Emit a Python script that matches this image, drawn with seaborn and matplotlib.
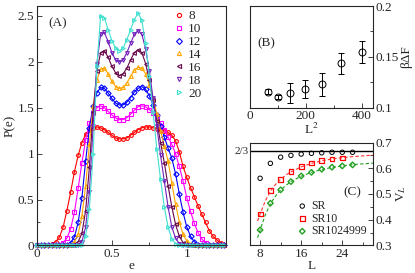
import numpy as np
import pandas as pd
import seaborn as sns
import matplotlib.pyplot as plt
from matplotlib.lines import Line2D
from matplotlib.ticker import MultipleLocator

sns.set_style("ticks")
plt.rcParams['font.family'] = ['Liberation Serif', 'DejaVu Serif']
plt.rcParams['mathtext.fontset'] = 'stix'
plt.rcParams['font.size'] = 9.5

# ---- panel A : P(e) for L = 8..20, sampled on e = 0, 0.025, ..., 1.25
e_grid = np.linspace(0, 1.25, 51)
sizes = ['8', '10', '12', '14', '16', '18', '20']


def pad(p):
    return p + [0] * (51 - len(p))


P_8 = pad([0, 0, 0, 0.005, 0.02, 0.04, 0.09, 0.2, 0.38, 0.58, 0.8, 0.98, 1.12, 1.21,
           1.26, 1.28, 1.29, 1.28, 1.26, 1.23, 1.2, 1.17, 1.16, 1.16, 1.17, 1.2, 1.23,
           1.26, 1.28, 1.29, 1.29, 1.28, 1.27, 1.26, 1.25, 1.23, 1.2, 1.14, 1.02, 0.86,
           0.74, 0.63, 0.53, 0.43, 0.34, 0.25, 0.16, 0.1, 0.06, 0.03, 0.01])
P_10 = pad([0, 0, 0, 0, 0, 0.005, 0.01, 0.03, 0.08, 0.18, 0.36, 0.62, 0.9, 1.15, 1.33,
            1.44, 1.5, 1.52, 1.5, 1.46, 1.42, 1.39, 1.37, 1.37, 1.39, 1.43, 1.47, 1.51,
            1.52, 1.51, 1.48, 1.44, 1.39, 1.33, 1.26, 1.18, 1.1, 1.0, 0.86, 0.7, 0.52,
            0.37, 0.24, 0.14, 0.07, 0.03, 0.01])
P_12 = pad([0, 0, 0, 0, 0, 0, 0, 0, 0.01, 0.03, 0.09, 0.25, 0.52, 0.92, 1.28, 1.52,
            1.66, 1.72, 1.71, 1.66, 1.6, 1.55, 1.53, 1.53, 1.56, 1.61, 1.67, 1.71, 1.73,
            1.7, 1.63, 1.53, 1.42, 1.3, 1.18, 1.06, 0.95, 0.78, 0.56, 0.36, 0.2, 0.1,
            0.04, 0.01])
P_14 = pad([0, 0, 0, 0, 0, 0, 0, 0, 0, 0.01, 0.04, 0.12, 0.32, 0.65, 1.1, 1.52, 1.8,
            1.92, 1.93, 1.87, 1.79, 1.73, 1.71, 1.72, 1.77, 1.84, 1.91, 1.94, 1.93, 1.87,
            1.75, 1.6, 1.43, 1.25, 1.08, 0.92, 0.68, 0.45, 0.26, 0.12, 0.05, 0.02])
P_16 = pad([0, 0, 0, 0, 0, 0, 0, 0, 0, 0, 0.01, 0.04, 0.13, 0.38, 0.85, 1.45, 1.9,
            2.1, 2.12, 2.05, 1.95, 1.88, 1.85, 1.87, 1.93, 2.02, 2.1, 2.13, 2.1, 1.98,
            1.8, 1.58, 1.35, 1.12, 0.9, 0.65, 0.42, 0.23, 0.1, 0.03, 0.01])
P_18 = pad([0, 0, 0, 0, 0, 0, 0, 0, 0, 0, 0, 0.01, 0.04, 0.2, 0.58, 1.3, 1.98, 2.3,
            2.32, 2.22, 2.1, 2.02, 2.0, 2.02, 2.1, 2.2, 2.3, 2.34, 2.3, 2.14, 1.9, 1.6,
            1.3, 0.98, 0.7, 0.42, 0.2, 0.08, 0.02])
P_20 = pad([0, 0, 0, 0, 0, 0, 0, 0, 0, 0, 0, 0, 0.01, 0.1, 0.4, 1.0, 1.95, 2.5, 2.48,
            2.35, 2.23, 2.15, 2.12, 2.15, 2.24, 2.35, 2.46, 2.53, 2.45, 2.2, 1.85, 1.45,
            1.05, 0.72, 0.42, 0.2, 0.07, 0.02])
P_all = [P_8, P_10, P_12, P_14, P_16, P_18, P_20]

colors_A = ['#ff0000', '#ff00ff', '#0000ff', '#ffa500', '#670748', '#7221bc', '#40e0d0']
markers_A = ['o', 's', 'D', '^', '<', 'v', '>']

# ---- panel B : free energy barrier vs L^2
L_sq = [64, 100, 144, 196, 256, 324, 400]
dF = [0.1156, 0.1106, 0.1146, 0.1182, 0.1229, 0.1435, 0.1550]
dF_err = [0.0025, 0.0022, 0.0100, 0.0090, 0.0115, 0.0100, 0.0110]

# ---- panel C : V_L vs L
L_sr = [8, 10, 12, 14, 16, 18, 20, 22, 24, 26]
V_sr = [0.561, 0.619, 0.643, 0.650, 0.655, 0.658, 0.660, 0.662, 0.662, 0.662]
L_sr10 = [8, 10, 12, 14, 16, 18, 20, 22, 24]
V_sr10 = [0.422, 0.513, 0.556, 0.587, 0.606, 0.620, 0.629, 0.636, 0.640]
L_sr1024999 = [8, 10, 12, 14, 16, 18, 20, 22, 24, 26]
V_sr1024999 = [0.360, 0.464, 0.516, 0.548, 0.570, 0.584, 0.596, 0.604, 0.609, 0.613]
# dashed fit curves
L_fit = [7.5, 8, 9, 10, 11, 12, 13, 14, 16, 18, 20, 22, 24, 26, 28, 30]
fit_sr10 = [0.395, 0.422, 0.472, 0.511, 0.537, 0.557, 0.573, 0.586, 0.605, 0.619,
            0.629, 0.636, 0.641, 0.645, 0.648, 0.651]
fit_sr1024999 = [0.33, 0.36, 0.418, 0.462, 0.492, 0.515, 0.533, 0.548, 0.569, 0.584,
                 0.595, 0.603, 0.609, 0.614, 0.617, 0.620]

fig = plt.figure(figsize=(4.15, 2.73), dpi=100)
axA = fig.add_axes([0.089, 0.101, 0.455, 0.878])
axB = fig.add_axes([0.602, 0.606, 0.297, 0.372])
axC = fig.add_axes([0.602, 0.101, 0.297, 0.377])

for ax in (axA, axB, axC):
    for s in ax.spines.values():
        s.set_linewidth(0.8)
    ax.tick_params(which='major', direction='in', length=3.5, width=0.6, pad=2)
    ax.tick_params(which='minor', direction='in', length=2, width=0.6)

# panel A
handles = []
for P, c, m, lab in zip(P_all, colors_A, markers_A, sizes):
    df = pd.DataFrame({'e': e_grid, 'P': P})
    sns.lineplot(data=df, x='e', y='P', ax=axA, color=c, lw=0.8, marker=m,
                 markersize=2.7, markerfacecolor='none', markeredgecolor=c,
                 markeredgewidth=0.8, clip_on=False)
    handles.append(Line2D([], [], ls='none', marker=m, color=c, markersize=3,
                          markerfacecolor='none', markeredgewidth=0.8, label=lab))
axA.set_xlim(0, 1.26)
axA.set_ylim(0, 2.61)
axA.xaxis.set_minor_locator(MultipleLocator(0.25))
axA.yaxis.set_minor_locator(MultipleLocator(0.25))
axA.set_xticks([0, 0.5, 1])
axA.set_xticklabels(['0', '0.5', '1'])
axA.set_yticks([0, 0.5, 1, 1.5, 2, 2.5])
axA.set_yticklabels(['0', '0.5', '1', '1.5', '2', '2.5'])
axA.set_xlabel('e', labelpad=0)
axA.set_ylabel('P(e)', labelpad=1)
axA.text(0.06, 0.925, '(A)', transform=axA.transAxes, va='center')
axA.legend(handles=handles, loc='upper left', bbox_to_anchor=(0.685, 1.02),
           frameon=False, handlelength=0.6, handletextpad=0.35, labelspacing=0.05,
           borderpad=0.2, fontsize=9.5)

# panel B
axB.errorbar(L_sq, dF, yerr=dF_err, fmt='o', color='k', markersize=5,
             markerfacecolor='none', markeredgewidth=0.7, elinewidth=0.7,
             capsize=2.5, capthick=0.7)
axB.set_xlim(0, 440)
axB.set_ylim(0.1, 0.2)
axB.set_xticks([0, 200, 400])
axB.xaxis.set_minor_locator(MultipleLocator(100))
axB.set_yticks([0.1, 0.15, 0.2])
axB.set_yticklabels(['0.1', '0.15', '0.2'])
axB.yaxis.set_minor_locator(MultipleLocator(0.025))
axB.yaxis.tick_right()
axB.yaxis.set_label_position('right')
axB.set_ylabel('βΔF', labelpad=1)
axB.set_xlabel(r'L$^2$', labelpad=0)
axB.text(0.065, 0.635, '(B)', transform=axB.transAxes, va='center')

# panel C
axC.axhline(2 / 3, color='k', lw=1)
sns.lineplot(x=L_fit, y=fit_sr10, ax=axC, color='#ff3030', lw=0.8, ls=(0, (3, 2)))
sns.lineplot(x=L_fit, y=fit_sr1024999, ax=axC, color='#22a022', lw=0.8, ls=(0, (3, 2)))
sns.scatterplot(x=L_sr, y=V_sr, ax=axC, marker='o', s=10, facecolors='none',
                edgecolors='k', linewidths=0.7, label='SR')
sns.scatterplot(x=L_sr10, y=V_sr10, ax=axC, marker='s', s=12, facecolors='none',
                edgecolors='#ff0000', linewidths=0.9, label='SR10')
sns.scatterplot(x=L_sr1024999, y=V_sr1024999, ax=axC, marker='D', s=8,
                facecolors='none', edgecolors='#22a022', linewidths=1.0,
                label='SR1024999')
axC.set_xlim(6, 30)
axC.set_ylim(0.3, 0.7)
axC.set_xticks([8, 16, 24])
axC.xaxis.set_minor_locator(MultipleLocator(4))
axC.set_yticks([0.3, 0.4, 0.5, 0.6, 0.7])
axC.yaxis.set_minor_locator(MultipleLocator(0.05))
axC.yaxis.tick_right()
axC.yaxis.set_label_position('right')
axC.set_ylabel(r'V$_L$', labelpad=1)
axC.set_xlabel('L', labelpad=0)
axC.text(0.83, 0.52, '(C)', transform=axC.transAxes, ha='center', va='center')
axC.text(-0.01, 2 / 3, '2/3', transform=axC.get_yaxis_transform(), ha='right',
         va='center', fontsize=8)
axC.legend(loc='upper left', bbox_to_anchor=(0.32, 0.52), frameon=False,
           handlelength=0.8, handletextpad=0.4, labelspacing=0.05, borderpad=0.2,
           fontsize=8.5)

fig.savefig('out.png', dpi=100)
